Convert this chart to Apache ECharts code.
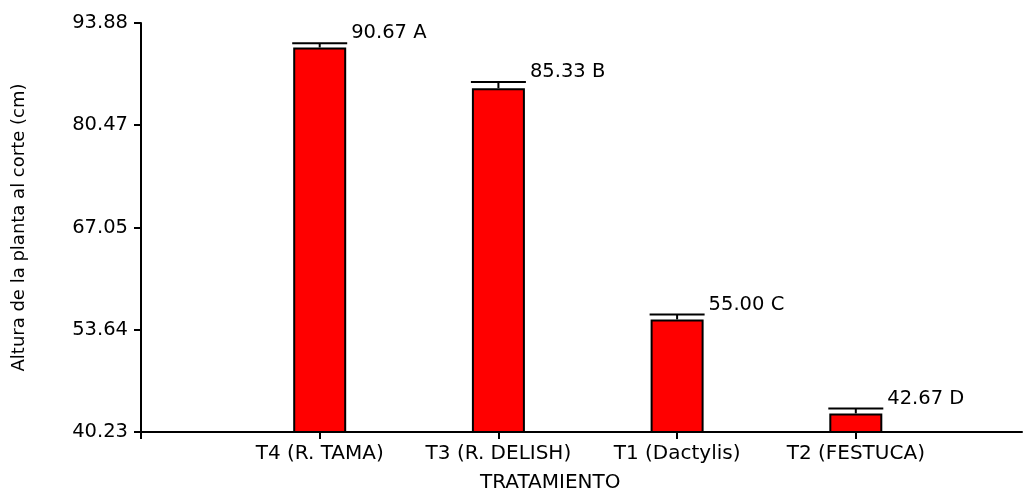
<!DOCTYPE html>
<html>
<head>
<meta charset="utf-8">
<script src="https://cdn.jsdelivr.net/npm/echarts@6/dist/echarts.min.js"></script>
<style>
  html, body { margin: 0; padding: 0; background: #fff; }
  #chart { width: 1027px; height: 489px; }
</style>
</head>
<body>
<div id="chart"></div>
<script>
// Treatments in plotting order, with mean plant height at cutting (cm)
const categories = ['T4 (R. TAMA)', 'T3 (R. DELISH)', 'T1 (Dactylis)', 'T2 (FESTUCA)'];
const heights = [90.67, 85.33, 55.00, 42.67];
const errors = [0.55, 0.8, 0.65, 0.65];
const groups = ['A', 'B', 'C', 'D'];
const yTickLabels = ['40.23', '53.64', '67.05', '80.47', '93.88'];

const Y_MIN = 40.23, Y_MAX = 93.88;
const Y_STEP = (Y_MAX - Y_MIN) / (yTickLabels.length - 1);
const FONT = 'DejaVu Sans';
const BAR_W = 53;

const chart = echarts.init(document.getElementById('chart'), null, { renderer: 'canvas' });

const barData = heights.map((h, i) => [i + 1, h]);
const errData = heights.map((h, i) => [i + 1, h, errors[i], i]);

chart.setOption({
  animation: false,
  backgroundColor: '#fff',
  grid: { left: 141, right: 5, top: 23, bottom: 57, containLabel: false },
  xAxis: {
    type: 'value',
    min: 0,
    max: 4.93,
    interval: 1,
    splitLine: { show: false },
    axisLine: { show: true, onZero: false, lineStyle: { color: '#000', width: 2 } },
    axisTick: { show: true, inside: false, length: 7, lineStyle: { color: '#000', width: 2 } },
    axisLabel: {
      margin: 12,
      color: '#000',
      fontFamily: FONT,
      fontSize: 20,
      showMaxLabel: false,
      formatter: v => categories[v - 1] || ''
    }
  },
  yAxis: {
    type: 'value',
    min: Y_MIN,
    max: Y_MAX,
    interval: Y_STEP,
    splitLine: { show: false },
    axisLine: { show: true, lineStyle: { color: '#000', width: 2 } },
    axisTick: { show: true, inside: false, length: 7, lineStyle: { color: '#000', width: 2 } },
    axisLabel: {
      margin: 13,
      color: '#000',
      fontFamily: FONT,
      fontSize: 19.5,
      formatter: v => yTickLabels[Math.round((v - Y_MIN) / Y_STEP)]
    },
    name: 'Altura de la planta al corte (cm)',
    nameLocation: 'middle',
    nameGap: 113,
    nameTextStyle: { color: '#000', fontFamily: FONT, fontSize: 18 }
  },
  graphic: [{
    type: 'text',
    left: 480,
    top: 473,
    style: { text: 'TRATAMIENTO', fill: '#000', font: '20px "' + FONT + '"' }
  }],
  series: [
    {
      type: 'bar',
      data: barData,
      barWidth: BAR_W,
      itemStyle: { color: '#ff0000', borderColor: '#000', borderWidth: 2 },
      z: 2
    },
    {
      type: 'custom',
      data: errData,
      z: 3,
      renderItem: (params, api) => {
        const x = api.value(0), v = api.value(1), e = api.value(2), idx = api.value(3);
        const base = api.coord([x, v]);
        const top = api.coord([x, v + e]);
        const cx = base[0];
        const half = BAR_W / 2 + 1;
        const ls = { stroke: '#000', lineWidth: 2 };
        return {
          type: 'group',
          children: [
            { type: 'line', shape: { x1: cx, y1: base[1], x2: cx, y2: top[1] }, style: ls },
            { type: 'line', shape: { x1: cx - half, y1: top[1], x2: cx + half, y2: top[1] }, style: ls },
            {
              type: 'text',
              x: cx + half + 4,
              y: top[1] - 10,
              style: {
                text: heights[idx].toFixed(2) + ' ' + groups[idx],
                fill: '#000',
                font: '19.5px "' + FONT + '"',
                verticalAlign: 'middle',
                align: 'left'
              }
            }
          ]
        };
      }
    }
  ]
});
</script>
</body>
</html>
